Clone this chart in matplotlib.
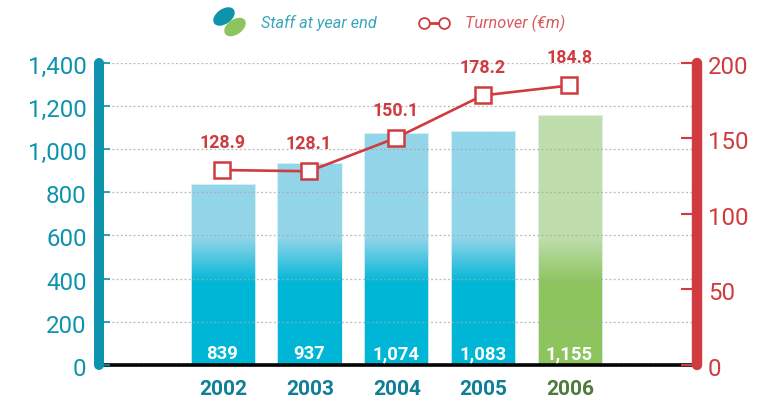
import numpy as np
import matplotlib
matplotlib.use('Agg')
import matplotlib.pyplot as plt
from matplotlib.colors import LinearSegmentedColormap
from matplotlib.patches import Ellipse
from matplotlib.transforms import ScaledTranslation

plt.rcParams['font.family'] = ['Roboto', 'DejaVu Sans']

years = ['2002', '2003', '2004', '2005', '2006']
staff = [839, 937, 1074, 1083, 1155]
turnover = [128.9, 128.1, 150.1, 178.2, 184.8]
staff_ticks = [0, 200, 400, 600, 800, 1000, 1200, 1400]
turnover_ticks = [0, 50, 100, 150, 200]

TEAL = '#0e93ad'
RED = '#cf3b3f'
W, H = 766, 403


def gradient(low, high):
    # solid up to about 400 staff, then fading out by about 590
    return LinearSegmentedColormap.from_list('g', [(0, low), (0.27, low), (0.42, high), (1, high)])


fig = plt.figure(figsize=(W / 100, H / 100), dpi=100)
ax = fig.add_axes([99 / W, 1 - 365 / H, (697 - 99) / W, (365 - 62.5) / H])
label_shift = ScaledTranslation(0, -1.5 / 72, fig.dpi_scale_trans)

# bars, filled with a vertical gradient clipped to each bar
x = np.arange(len(years))
grad = np.linspace(1, 0, 256).reshape(-1, 1)
for i, (xi, val) in enumerate(zip(x, staff)):
    bar = ax.bar(xi - 0.005, val, width=0.74, color='none', edgecolor='#e4f3f7', linewidth=0.6, zorder=1.5)[0]
    cmap = gradient('#8dc45e', '#bfdeac') if i == 4 else gradient('#00b6d7', '#93d5e9')
    img = ax.imshow(grad, extent=(xi - 0.375, xi + 0.365, 0, 1400), aspect='auto', cmap=cmap, zorder=1)
    img.set_clip_path(bar)
    ax.text(xi - 0.01, 50, f'{val:,}', color='white', fontweight='bold', fontsize=13.3, ha='center', va='center', zorder=4)

ax.set_xlim(-1.43, 5.46)
ax.set_ylim(0, 1400)
ax.set_xticks(x)
ax.set_xticklabels(years, fontweight='bold', fontsize=15)
ax.set_yticks(staff_ticks)
ax.set_yticklabels([f'{v:,}' for v in staff_ticks], fontsize=17.3, color=TEAL)
ax.tick_params(axis='x', length=0, pad=10.5)
ax.tick_params(axis='y', direction='in', length=8, width=1.2, color=TEAL, pad=9)
for label in ax.get_xticklabels():
    label.set_color('#0e7f96')
ax.get_xticklabels()[-1].set_color('#4f7a3a')
for label in ax.get_yticklabels():
    label.set_transform(label.get_transform() + label_shift)

ax.set_axisbelow(False)
ax.grid(axis='y', color='#a8a8a8', alpha=0.75, linestyle=(0, (1.6, 1.8)), linewidth=0.9)

for side in ['top', 'right']:
    ax.spines[side].set_visible(False)
ax.spines['bottom'].set_color('black')
ax.spines['bottom'].set_linewidth(2.6)
ax.spines['left'].set_color(TEAL)
ax.spines['left'].set_linewidth(7.2)
ax.spines['left'].set_capstyle('round')
ax.spines['left'].set_zorder(5)

# turnover on the right hand scale
ax2 = ax.twinx()
ax2.set_ylim(0, 200)
ax2.set_yticks(turnover_ticks)
ax2.set_yticklabels([str(v) for v in turnover_ticks], fontsize=17.3, color=RED)
ax2.tick_params(axis='y', direction='in', length=11.5, width=1.5, color=RED, pad=8)
for label in ax2.get_yticklabels():
    label.set_transform(label.get_transform() + label_shift)
for side in ['top', 'left', 'bottom']:
    ax2.spines[side].set_visible(False)
ax2.spines['right'].set_color(RED)
ax2.spines['right'].set_linewidth(7.5)
ax2.spines['right'].set_capstyle('round')

ax2.plot(x - 0.01, turnover, color=RED, linewidth=1.9, marker='s', markersize=11,
         markerfacecolor='white', markeredgecolor=RED, markeredgewidth=1.8, zorder=5)
for xi, val in zip(x, turnover):
    ax2.annotate(f'{val}', (xi - 0.01, val), xytext=(0, 19.5), textcoords='offset points', color=RED,
                 fontweight='bold', fontsize=12.8, ha='center', va='center')

# hand drawn legend in pixel coordinates
leg = fig.add_axes([0, 0, 1, 1], facecolor='none')
leg.set_xlim(0, W)
leg.set_ylim(H, 0)
leg.axis('off')
leg.add_patch(Ellipse((224, 16.5), 24, 15, angle=-35, color=TEAL, linewidth=0))
leg.add_patch(Ellipse((235, 27), 24, 15, angle=-35, color='#8dc45e', linewidth=0))
leg.text(261, 23, 'Staff at year end', style='italic', fontsize=11.7, color='#3aa6bd', va='center')
leg.plot([424, 444], [23, 23], color=RED, linewidth=2, marker='o', markersize=7.8,
         markerfacecolor='white', markeredgecolor=RED, markeredgewidth=1.3)
leg.text(465, 23, 'Turnover (€m)', style='italic', fontsize=11.7, color='#d85a5e', va='center')

fig.savefig('out.png', dpi=100)
